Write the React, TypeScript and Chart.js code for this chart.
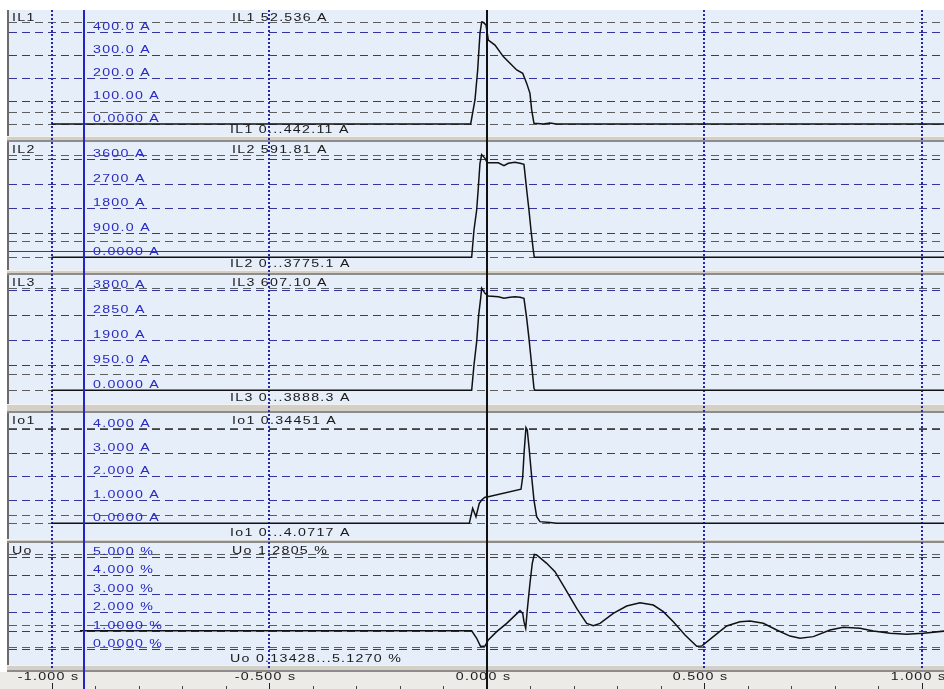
import React, { useEffect, useRef } from "react";
import { Chart, registerables } from "chart.js";

Chart.register(...registerables);

// ---------- DATA ----------
const IL1_T = [-1.0, -0.0368, -0.0269, -0.0207, -0.0154, -0.0115, -0.0092, -0.0016, 0.0014, 0.0037, 0.0191, 0.0382, 0.0536, 0.069, 0.0828, 0.092, 0.0995, 0.1034, 0.1087, 0.13, 0.1455, 0.16, 1.06];
const IL1_V = [0, 0, 104, 234, 393, 442, 442, 429, 393, 364, 342, 292, 263, 234, 220, 176, 133, 61, 3, 0, 4, 0, 0];

const IL2_T = [-1.0, -0.0345, -0.0292, -0.023, -0.0193, -0.0154, -0.0115, -0.0039, 0.0014, 0.0267, 0.0398, 0.0497, 0.0651, 0.0766, 0.0857, 0.092, 0.0972, 0.1018, 0.1071, 0.1094, 1.06];
const IL2_V = [0, 0, 1003, 1738, 2535, 3453, 3775, 3637, 3475, 3475, 3365, 3453, 3490, 3453, 3416, 2472, 1738, 1003, 268, 0, 0];

const IL3_T = [-1.0, -0.0345, -0.0292, -0.023, -0.0184, -0.0138, -0.0115, -0.0039, 0.0037, 0.0267, 0.0398, 0.0536, 0.0651, 0.0766, 0.0857, 0.092, 0.0972, 0.1034, 0.1087, 0.111, 1.06];
const IL3_V = [0, 0, 963, 1851, 2867, 3503, 3888, 3693, 3591, 3564, 3503, 3541, 3564, 3541, 3503, 2741, 1980, 963, 76, 0, 0];

const IO1_T = [-1.0, -0.04, -0.0322, -0.0246, -0.017, -0.0115, -0.0039, 0.0037, 0.0789, 0.0828, 0.0864, 0.0903, 0.0933, 0.0979, 0.1034, 0.1087, 0.1149, 0.1225, 0.1455, 0.16, 1.06];
const IO1_V = [0, 0, 0.64, 0.28, 0.85, 0.99, 1.11, 1.13, 1.45, 1.98, 3.12, 4.07, 3.97, 3.12, 1.98, 0.99, 0.28, 0.07, 0.03, 0, 0];

const UO_T = [-0.935, -0.0345, -0.023, -0.0138, -0.0039, 0.0037, 0.023, 0.046, 0.0766, 0.0828, 0.0857, 0.0897, 0.0933, 0.0995, 0.1048, 0.1094, 0.1149, 0.1379, 0.157, 0.18, 0.2069, 0.2299, 0.2451, 0.2605, 0.291, 0.3218, 0.3524, 0.383, 0.406, 0.429, 0.4559, 0.4828, 0.4943, 0.5209, 0.5517, 0.5823, 0.6053, 0.6359, 0.6667, 0.6972, 0.7202, 0.7508, 0.7892, 0.8198, 0.8582, 0.8887, 0.9271, 0.9655, 1.0037, 1.06];
const UO_V = [0.99, 0.99, 0.58, 0.13, 0.16, 0.49, 0.94, 1.39, 2.08, 1.93, 1.48, 1.12, 2.11, 3.56, 4.64, 5.12, 5.09, 4.64, 4.19, 3.29, 2.2, 1.39, 1.26, 1.39, 1.93, 2.33, 2.51, 2.38, 2.02, 1.48, 0.76, 0.15, 0.16, 0.67, 1.25, 1.48, 1.52, 1.39, 1.03, 0.7, 0.58, 0.67, 1.03, 1.18, 1.12, 0.98, 0.85, 0.8, 0.85, 0.99];

const NAMES = ["IL1", "IL2", "IL3", "Io1", "Uo"];
const UNITS = ["A", "A", "A", "A", "%"];
const CURSOR_VALUES = [52.536, 591.81, 607.1, 0.34451, 1.2805];
const MIN_VALUES = [0, 0, 0, 0, 0.13428];
const MAX_VALUES = [442.11, 3775.1, 3888.3, 4.0717, 5.127];
const IL2_THRESHOLD = 242;

const TICKS_IL1 = [0, 100, 200, 300, 400];
const TICKS_IL1_LABELS = ["0.0000 A", "100.00 A", "200.0 A", "300.0 A", "400.0 A"];
const TICKS_IL2 = [0, 900, 1800, 2700, 3600];
const TICKS_IL2_LABELS = ["0.0000 A", "900.0 A", "1800 A", "2700 A", "3600 A"];
const TICKS_IL3 = [0, 950, 1900, 2850, 3800];
const TICKS_IL3_LABELS = ["0.0000 A", "950.0 A", "1900 A", "2850 A", "3800 A"];
const TICKS_IO1 = [0, 1, 2, 3, 4];
const TICKS_IO1_LABELS = ["0.0000 A", "1.0000 A", "2.000 A", "3.000 A", "4.000 A"];
const TICKS_UO = [0, 1, 2, 3, 4, 5];
const TICKS_UO_LABELS = ["0.0000 %", "1.0000 %", "2.000 %", "3.000 %", "4.000 %", "5.000 %"];

const X_TICKS = [-1, -0.5, 0, 0.5, 1];
const X_TICK_LABELS = ["-1.000 s", "-0.500 s", "0.000 s", "0.500 s", "1.000 s"];
const X_MINOR_TICKS = [-0.9, -0.8, -0.7, -0.6, -0.4, -0.3, -0.2, -0.1, 0.1, 0.2, 0.3, 0.4, 0.6, 0.7, 0.8, 0.9];
const CURSOR_BLUE_T = -0.925;
const CURSOR_BLACK_T = 0;
const X_MIN = -1.098;
const X_MAX = 1.0512;

// ---------- LAYOUT ----------
const W = 944;
const H = 689;
const AREA_TOP = 10;
const AREA_BOTTOM = 665;
const AREA_LEFT = 9;
const BANDS = [
  { top: 10, bottom: 136, min: -52, max: 494 },
  { top: 142, bottom: 270, min: -467, max: 4236 },
  { top: 275, bottom: 404, min: -522, max: 4390 },
  { top: 413, bottom: 539, min: -0.668, max: 4.694 },
  { top: 543, bottom: 665, min: -0.867, max: 5.742 },
];
const SERIES = [
  { t: IL1_T, v: IL1_V, ticks: TICKS_IL1, labels: TICKS_IL1_LABELS },
  { t: IL2_T, v: IL2_V, ticks: TICKS_IL2, labels: TICKS_IL2_LABELS },
  { t: IL3_T, v: IL3_V, ticks: TICKS_IL3, labels: TICKS_IL3_LABELS },
  { t: IO1_T, v: IO1_V, ticks: TICKS_IO1, labels: TICKS_IO1_LABELS },
  { t: UO_T, v: UO_V, ticks: TICKS_UO, labels: TICKS_UO_LABELS },
];

const PANEL_BG = "#e6eefa";
const GRID_BLUE = "#34349e";
const TEXT_BLUE = "#2a2ac0";
const SEP_FILL = "#d4d0c8";
const FONT = '10px "Liberation Sans", Arial, sans-serif';
const SX = 1.42;

function fmt(v: number) {
  return v === 0 ? "0" : v.toPrecision(5);
}

function drawText(ctx: CanvasRenderingContext2D, text: string, x: number, y: number, color: string, align: "left" | "center" = "left") {
  ctx.save();
  ctx.font = FONT;
  (ctx as any).letterSpacing = "0.9px";
  ctx.fillStyle = color;
  ctx.textBaseline = "alphabetic";
  ctx.textAlign = "left";
  const w = ctx.measureText(text).width * SX;
  const x0 = align === "center" ? x - w / 2 : x;
  ctx.translate(x0, y);
  ctx.scale(SX, 1);
  ctx.fillText(text, 0, 0);
  ctx.restore();
}

function hLine(ctx: CanvasRenderingContext2D, y: number, color: string, dash: number[], width = 1) {
  ctx.save();
  ctx.strokeStyle = color;
  ctx.lineWidth = width;
  ctx.setLineDash(dash);
  ctx.beginPath();
  const yy = Math.round(y) + 0.5;
  ctx.moveTo(AREA_LEFT, yy);
  ctx.lineTo(W, yy);
  ctx.stroke();
  ctx.restore();
}

function vLine(ctx: CanvasRenderingContext2D, x: number, y0: number, y1: number, color: string, dash: number[], width: number) {
  ctx.save();
  ctx.strokeStyle = color;
  ctx.lineWidth = width;
  ctx.setLineDash(dash);
  ctx.beginPath();
  ctx.moveTo(x, y0);
  ctx.lineTo(x, y1);
  ctx.stroke();
  ctx.restore();
}

const panelPlugin = {
  id: "recorderPanels",
  beforeDatasetsDraw(chart: any) {
    const ctx: CanvasRenderingContext2D = chart.ctx;
    const xs = chart.scales.x;
    ctx.save();
    ctx.fillStyle = "#ffffff";
    ctx.fillRect(0, 0, W, H);

    // separators
    for (let i = 0; i < BANDS.length; i++) {
      const y0 = BANDS[i].bottom;
      const y1 = i < BANDS.length - 1 ? BANDS[i + 1].top : AREA_BOTTOM + 7;
      ctx.fillStyle = SEP_FILL;
      ctx.fillRect(7, y0, W - 7, y1 - y0);
      ctx.fillStyle = "#f2f1ee";
      ctx.fillRect(7, y0, W - 7, 1);
      ctx.fillStyle = "#8c8c8c";
      ctx.fillRect(7, y1 - 2, W - 7, 2);
    }
    // axis bar
    ctx.fillStyle = "#ecebe7";
    ctx.fillRect(0, AREA_BOTTOM + 7, W, H - AREA_BOTTOM - 7);

    BANDS.forEach((b) => {
      ctx.fillStyle = PANEL_BG;
      ctx.fillRect(AREA_LEFT, b.top, W - AREA_LEFT, b.bottom - b.top);
      ctx.fillStyle = "#6b6b6b";
      ctx.fillRect(7, b.top, 2, b.bottom - b.top);
    });

    BANDS.forEach((b, i) => {
      const ys = chart.scales["y" + i];
      const s = SERIES[i];
      ctx.save();
      ctx.beginPath();
      ctx.rect(AREA_LEFT, b.top, W - AREA_LEFT, b.bottom - b.top);
      ctx.clip();
      s.ticks.forEach((v) => hLine(ctx, ys.getPixelForValue(v), GRID_BLUE, [8, 5]));
      [MAX_VALUES[i], CURSOR_VALUES[i], MIN_VALUES[i]].forEach((v) =>
        hLine(ctx, ys.getPixelForValue(v), "#5e5e5e", [8, 5])
      );
      if (i === 1) hLine(ctx, ys.getPixelForValue(IL2_THRESHOLD), "#3434c0", [], 1);
      ctx.restore();
    });

    // vertical dotted grid
    X_TICKS.forEach((t) => {
      const x = Math.round(xs.getPixelForValue(t));
      vLine(ctx, x, AREA_TOP, AREA_BOTTOM + 3, "#2626a8", [2, 2], 2);
    });

    // texts
    BANDS.forEach((b, i) => {
      const ys = chart.scales["y" + i];
      const s = SERIES[i];
      s.ticks.forEach((v, k) => drawText(ctx, s.labels[k], 93, ys.getPixelForValue(v) - 2, TEXT_BLUE));
      drawText(ctx, NAMES[i], 12, b.top + 10.5, "#1a1a1a");
      drawText(ctx, `${NAMES[i]} ${fmt(CURSOR_VALUES[i])} ${UNITS[i]}`, 232, b.top + 10.5, "#1a1a1a");
      drawText(ctx, `${NAMES[i]} ${fmt(MIN_VALUES[i])}...${fmt(MAX_VALUES[i])} ${UNITS[i]}`, 230, b.bottom - 3, "#1a1a1a");
    });
    ctx.restore();
  },
  afterDatasetsDraw(chart: any) {
    const ctx: CanvasRenderingContext2D = chart.ctx;
    const xs = chart.scales.x;
    ctx.save();
    // x axis
    X_TICKS.forEach((t, k) => {
      const x = Math.round(xs.getPixelForValue(t)) + 0.5;
      vLine(ctx, x, H - 6, H, "#222", [], 1);
      drawText(ctx, X_TICK_LABELS[k], x - 4, H - 9, "#1a1a1a", "center");
    });
    X_MINOR_TICKS.forEach((t) => {
      const x = Math.round(xs.getPixelForValue(t)) + 0.5;
      vLine(ctx, x, H - 3, H, "#444", [], 1);
    });
    // cursors
    vLine(ctx, Math.round(xs.getPixelForValue(CURSOR_BLACK_T)), AREA_TOP, H, "#111", [], 2);
    vLine(ctx, Math.round(xs.getPixelForValue(CURSOR_BLUE_T)), AREA_TOP, H, "#2424c4", [], 2);
    ctx.restore();
  },
};

export default function App() {
  const ref = useRef<HTMLCanvasElement | null>(null);
  useEffect(() => {
    if (!ref.current) return;
    const scales: any = {
      x: { type: "linear", min: X_MIN, max: X_MAX, display: false },
    };
    BANDS.forEach((b, i) => {
      const k = (b.max - b.min) / (b.bottom - b.top);
      scales["y" + i] = {
        type: "linear",
        display: false,
        min: b.min - k * (AREA_BOTTOM - b.bottom),
        max: b.max + k * (b.top - AREA_TOP),
      };
    });
    const chart = new Chart(ref.current, {
      type: "line",
      data: {
        datasets: SERIES.map((s, i) => ({
          label: NAMES[i],
          data: s.t.map((t, j) => ({ x: t, y: s.v[j] })),
          yAxisID: "y" + i,
          borderColor: "#111",
          borderWidth: 1.5,
          pointRadius: 0,
          tension: 0,
          fill: false,
        })),
      },
      options: {
        animation: false,
        responsive: false,
        devicePixelRatio: 1,
        events: [],
        layout: { padding: { top: AREA_TOP, left: AREA_LEFT, right: 0, bottom: H - AREA_BOTTOM } },
        plugins: { legend: { display: false }, tooltip: { enabled: false } },
        scales,
      },
      plugins: [panelPlugin],
    });
    return () => chart.destroy();
  }, []);
  return (
    <div style={{ position: "absolute", left: 0, top: 0, width: W, height: H, background: "#fff" }}>
      <canvas ref={ref} width={W} height={H} style={{ display: "block" }} />
    </div>
  );
}
